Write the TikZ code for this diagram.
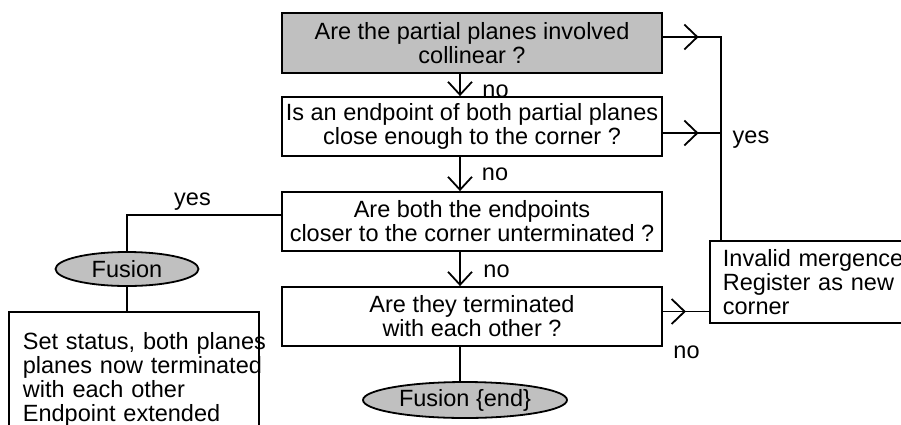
\documentclass[tikz,border=0pt]{standalone}
\usepackage{fontspec}
\setmainfont{Liberation Sans}
\usetikzlibrary{arrows.meta,shapes.geometric,decorations.markings}
\definecolor{boxgray}{RGB}{192,192,192}

\begin{document}
\begin{tikzpicture}[x=1pt,y=-1pt,line width=1.8pt,
  every node/.style={font=\fontsize{23.5pt}{24pt}\selectfont},
  qbox/.style={draw,rectangle,minimum width=380pt,minimum height=59pt,inner sep=0pt,align=center},
  tbox/.style={draw,rectangle,anchor=north west,align=left},
  oval/.style={draw,ellipse,fill=boxgray,inner sep=0pt},
  lbl/.style={anchor=base,inner sep=0pt},
  tip/.style={-{Straight Barb[length=13pt,width=24pt]}},
  midtip/.style={postaction={decorate},decoration={markings,
    mark=at position #1 with {\arrow{Straight Barb[length=13pt,width=25pt]}}}}]
  \useasboundingbox (0,0) rectangle (901,424);

  % 1. The question boxes down the middle
  \node[qbox,fill=boxgray,minimum height=60pt] (Q1) at (472,43) {Are the partial planes involved\\collinear ?};
  \node[qbox] (Q2) at (472,126.5) {Is an endpoint of both partial planes\\close enough to the corner ?};
  \node[qbox] (Q3) at (472,221.5) {Are both the endpoints\\closer to the corner unterminated ?};
  \node[qbox] (Q4) at (472,316.5) {Are they terminated\\with each other ?};

  % 2. The outcome boxes and the two Fusion ovals
  \node[tbox,text width=190pt,inner xsep=13pt,inner ysep=5pt,minimum height=82pt] (R) at (709,240)
    {Invalid mergence\\Register as new\\corner};
  \node[oval,minimum width=143pt,minimum height=34pt] (F) at (127,269) {Fusion};
  \node[tbox,text width=222pt,inner xsep=14pt,inner ysep=21pt] (S) at (8,311)
    {\mbox{Set status, both planes}\\\mbox{planes now terminated}\\with each other\\Endpoint extended};
  \node[oval,minimum width=204pt,minimum height=36pt] (E) at (465,400) {Fusion \{end\}};

  % 3. The "no" path down the spine
  \coordinate (spine) at (460,0);
  \draw[tip] (Q1.south -| spine) -- (Q2.north -| spine);
  \draw[tip] (Q2.south -| spine) -- (Q3.north -| spine);
  \draw[tip] (Q3.south -| spine) -- (Q4.north -| spine);
  \draw (Q4.south -| spine) -- (E.north -| spine);

  % 4. Side exits: yes-bus on the right, Fusion branch on the left
  \coordinate (bus) at (721,37);
  \draw[midtip=35.7pt] ([yshift=6pt]Q1.east) -- (bus) -- (bus |- R.north);
  \draw[midtip=35.7pt] ([yshift=-6.5pt]Q2.east) -- ([yshift=-6.5pt]Q2.east -| bus);
  \draw[midtip=23pt] ([yshift=5pt]Q4.east) -- ([yshift=5pt]Q4.east -| R.west);
  \draw ([yshift=6.5pt]Q3.west) -| (F.north);
  \draw (F.south) -- (F.south |- S.north);

  % 5. Branch labels
  \node[lbl] (no1) at (495.5,97) {no};
  \node[lbl] (no2) at (495,180) {no};
  \node[lbl] (no3) at (496.5,277) {no};
  \node[lbl] (no4) at (686.5,358) {no};
  \node[lbl] (yes1) at (192.5,205) {yes};
  \node[lbl] (yes2) at (751,143) {yes};
\end{tikzpicture}
\end{document}
